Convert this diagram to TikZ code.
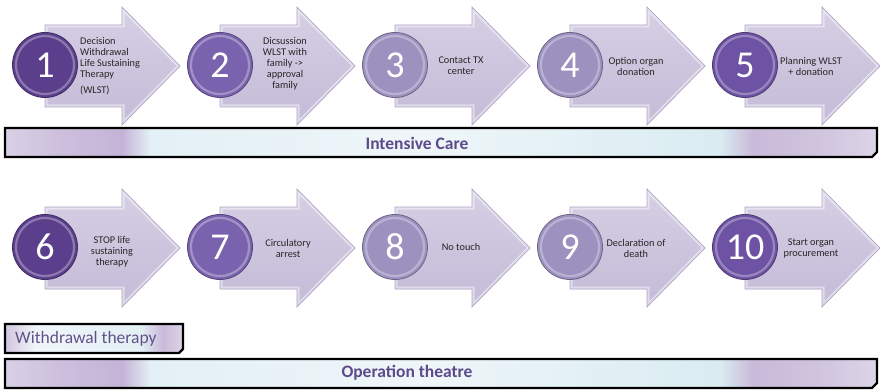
\documentclass[tikz,border=0pt]{standalone}
\usepackage{fontspec}
\setmainfont{Carlito}

\definecolor{arrtop}{HTML}{D6CFE4}
\definecolor{arrbot}{HTML}{C4BBD7}
\definecolor{arredge}{HTML}{ADA3C4}
\definecolor{cdark}{HTML}{5B3F8C}
\definecolor{cmid}{HTML}{7A63AE}
\definecolor{cfive}{HTML}{6E53A4}
\definecolor{clight}{HTML}{9D91C0}
\definecolor{barlabel}{HTML}{5D4A8A}
\definecolor{lavA}{HTML}{D9D1E6}
\definecolor{lavB}{HTML}{CDBFDD}
\definecolor{lavC}{HTML}{C4B3D6}
\definecolor{cyA}{HTML}{E3F0F5}
\definecolor{cyB}{HTML}{EFF6F9}
\definecolor{cyC}{HTML}{D9ECF2}
\definecolor{lavD}{HTML}{C9BAD9}
\definecolor{lavE}{HTML}{D0C4DE}
\definecolor{lavF}{HTML}{DDD5E8}

% chevron-like process arrow: #1 = left x, #2 = centre y
\newcommand\procarrow[2]{%
  \shade[top color=arrtop,bottom color=arrbot]
    (#1,#2-41) -- (#1+77,#2-41) -- (#1+77,#2-59) -- (#1+135,#2)
    -- (#1+77,#2+59) -- (#1+77,#2+41) -- (#1,#2+41) -- cycle;
  \begin{scope}
    \clip (#1,#2-41) -- (#1+77,#2-41) -- (#1+77,#2-59) -- (#1+135,#2)
      -- (#1+77,#2+59) -- (#1+77,#2+41) -- (#1,#2+41) -- cycle;
    \draw[white,opacity=.45,line width=5pt,line join=miter]
      (#1,#2-41) -- (#1+77,#2-41) -- (#1+77,#2-59) -- (#1+135,#2)
      -- (#1+77,#2+59) -- (#1+77,#2+41) -- (#1,#2+41) -- cycle;
  \end{scope}
  \draw[arredge,line width=.7pt]
    (#1,#2-41) -- (#1+77,#2-41) -- (#1+77,#2-59) -- (#1+135,#2)
    -- (#1+77,#2+59) -- (#1+77,#2+41) -- (#1,#2+41) -- cycle;
}

% numbered disc: #1 x, #2 y, #3 colour, #4 name, #5 number
\newcommand\stepdisc[5]{%
  \fill[#3] (#1,#2) circle[radius=32.5];
  \draw[#3!45!white,opacity=.55,line width=2.2pt] (#1,#2) circle[radius=29];
  \draw[#3!70!black,line width=.8pt] (#1,#2) circle[radius=32.5];
  \node[numtext] (#4) at (#1,#2) {#5};
}

% long phase bar with lavender ends and a pale cyan middle: #1 top y, #2 bottom y
\newcommand\phasebar[2]{%
  \begin{scope}
    \clip (5,#1) -- (877,#1) -- (877,#2-5) -- (872,#2) -- (5,#2) -- cycle;
    \shade[left color=lavA,right color=lavB] (4,#1) rectangle (60.5,#2);
    \shade[left color=lavB,right color=lavC] (60,#1) rectangle (122.5,#2);
    \shade[left color=lavC,right color=cyA] (122,#1) rectangle (150.5,#2);
    \shade[left color=cyA,right color=cyB] (150,#1) rectangle (420.5,#2);
    \shade[left color=cyB,right color=cyC] (420,#1) rectangle (720.5,#2);
    \shade[left color=cyC,right color=lavD] (720,#1) rectangle (752.5,#2);
    \shade[left color=lavD,right color=lavE] (752,#1) rectangle (820.5,#2);
    \shade[left color=lavE,right color=lavF] (820,#1) rectangle (878,#2);
  \end{scope}
  \draw[black,line width=2.4pt,line join=miter]
    (5,#1) -- (877,#1) -- (877,#2-5) -- (872,#2) -- (5,#2) -- cycle;
}

\tikzset{
  numtext/.style={text=white,font=\fontsize{38}{38}\selectfont,inner sep=0pt},
  steptext/.style={text=black!85,font=\fontsize{10.3}{11}\selectfont,align=center,inner sep=0pt},
  barlabeltext/.style={text=barlabel,font=\fontsize{17.5}{17.5}\selectfont\bfseries,inner sep=0pt},
}

\begin{document}
\begin{tikzpicture}[x=1pt,y=-1pt]
\useasboundingbox (0,0) rectangle (880,390);
\fill[white] (0,0) rectangle (880,390);

% ---- first row: intensive care steps
\procarrow{45}{66}
\procarrow{220}{66}
\procarrow{395}{66}
\procarrow{570}{66}
\procarrow{745}{66}
\stepdisc{45}{65}{cdark}{c1}{1}
\stepdisc{220}{65}{cmid}{c2}{2}
\stepdisc{395}{65}{clight}{c3}{3}
\stepdisc{570}{65}{clight}{c4}{4}
\stepdisc{745}{65}{cfive}{c5}{5}

\node[steptext,align=left,anchor=west] (t1) at (80,66.5)
  {Decision\\Withdrawal\\Life Sustaining\\Therapy\\[5pt](WLST)};
\node[steptext] (t2) at (285,64) {Dicsussion\\WLST with\\family ->\\approval\\family};
\node[steptext] (t3) at (461,66) {Contact TX\\center};
\node[steptext] (t4) at (636,66) {Option organ\\donation};
\node[steptext] (t5) at (811,66) {Planning WLST\\+ donation};

% intensive care phase
\phasebar{128}{157}
\node[barlabeltext] (ic) at (417,143) {Intensive Care};

% ---- second row: operation theatre steps
\procarrow{45}{248}
\procarrow{220}{248}
\procarrow{395}{248}
\procarrow{570}{248}
\procarrow{745}{248}
\stepdisc{45}{247}{cdark}{c6}{6}
\stepdisc{220}{247}{cmid}{c7}{7}
\stepdisc{395}{247}{clight}{c8}{8}
\stepdisc{570}{247}{clight}{c9}{9}
\stepdisc{745}{247}{cfive}{c10}{10}

\node[steptext] (t6) at (112,252) {STOP life\\sustaining\\therapy};
\node[steptext] (t7) at (288,248) {Circulatory\\arrest};
\node[steptext] (t8) at (461,247) {No touch};
\node[steptext] (t9) at (636,248) {Declaration of\\death};
\node[steptext] (t10) at (811,248) {Start organ\\procurement};

% withdrawal sub-phase
\begin{scope}
  \clip (5,324) -- (183,324) -- (183,349) -- (179,353) -- (5,353) -- cycle;
  \shade[left color=lavE,right color=cyB] (4,324) rectangle (35.5,353);
  \shade[left color=cyB,right color=cyA] (35,324) rectangle (140.5,353);
  \shade[left color=cyA,right color=lavD] (140,324) rectangle (162.5,353);
  \shade[left color=lavD,right color=lavF] (162,324) rectangle (184,353);
\end{scope}
\draw[black,line width=2.4pt,line join=miter]
  (5,324) -- (183,324) -- (183,349) -- (179,353) -- (5,353) -- cycle;
\node[text=barlabel!85!gray,font=\fontsize{17.5}{17.5}\selectfont,anchor=west,inner sep=0pt]
  (wt) at (15,339) {Withdrawal therapy};

% operation theatre phase
\phasebar{359}{388}
\node[barlabeltext] (ot) at (407,373) {Operation theatre};
\end{tikzpicture}
\end{document}
